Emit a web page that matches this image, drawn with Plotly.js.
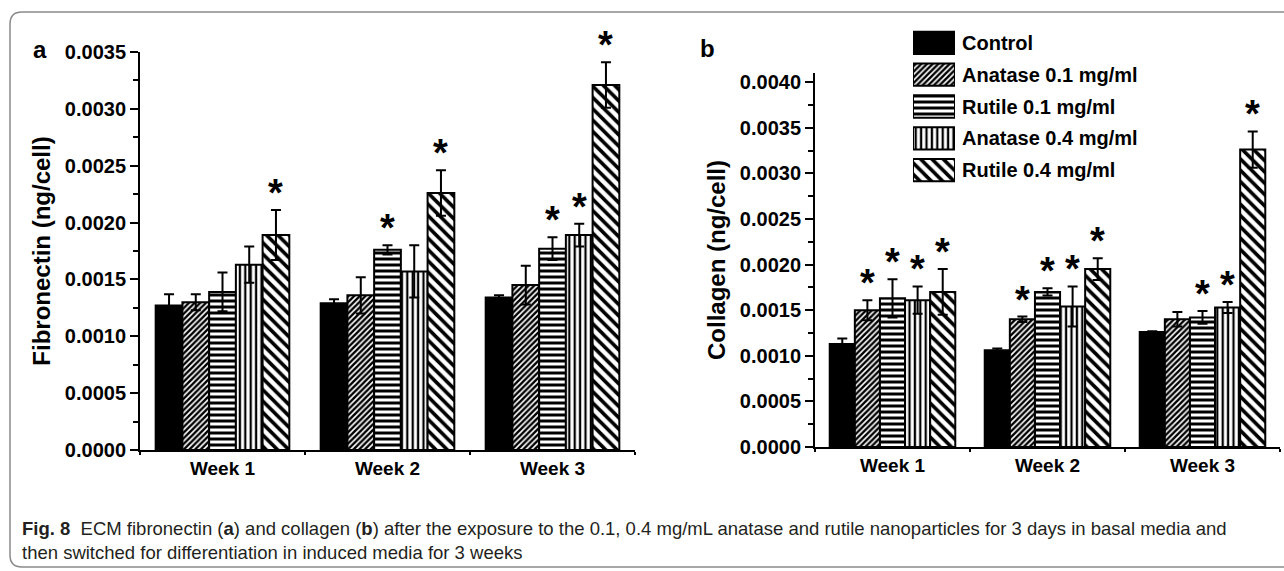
<!DOCTYPE html>
<html>
<head>
<meta charset="utf-8">
<script src="https://cdn.plot.ly/plotly-3.0.1.min.js"></script>
<style>
  html, body { margin: 0; padding: 0; background: #fff; }
  #chart { width: 1284px; height: 571px; }
</style>
</head>
<body>
<div id="chart"></div>
<script>
// ---------- data ----------
const weeks = ['Week 1', 'Week 2', 'Week 3'];
const seriesNames = ['Control', 'Anatase 0.1 mg/ml', 'Rutile 0.1 mg/ml', 'Anatase 0.4 mg/ml', 'Rutile 0.4 mg/ml'];

// Fibronectin (ng/cell), panel a
const fibControl    = [0.00127, 0.00129, 0.00134];
const fibAnatase01  = [0.00130, 0.00136, 0.00145];
const fibRutile01   = [0.00139, 0.00176, 0.00177];
const fibAnatase04  = [0.00163, 0.00157, 0.00189];
const fibRutile04   = [0.00189, 0.00226, 0.00321];
const fibControlErr   = [0.00010, 0.000035, 0.00002];
const fibAnatase01Err = [0.00007, 0.00016, 0.00017];
const fibRutile01Err  = [0.00017, 0.00004, 0.00010];
const fibAnatase04Err = [0.00016, 0.00023, 0.00010];
const fibRutile04Err  = [0.00022, 0.00020, 0.00020];
// significance stars (per series, per week)
const fibStars = [
  [false, false, false],
  [false, false, false],
  [false, true,  true ],
  [false, false, true ],
  [true,  true,  true ]
];

// Collagen (ng/cell), panel b
const colControl    = [0.00113, 0.00106, 0.00126];
const colAnatase01  = [0.00150, 0.00140, 0.00140];
const colRutile01   = [0.00163, 0.00170, 0.00142];
const colAnatase04  = [0.00161, 0.00154, 0.00153];
const colRutile04   = [0.00170, 0.00195, 0.00326];
const colControlErr   = [0.00006, 0.00002, 0.00001];
const colAnatase01Err = [0.00011, 0.00003, 0.00008];
const colRutile01Err  = [0.00021, 0.00004, 0.00007];
const colAnatase04Err = [0.00015, 0.00022, 0.00006];
const colRutile04Err  = [0.00025, 0.00012, 0.00020];
const colStars = [
  [false, false, false],
  [true,  true,  false],
  [true,  true,  true ],
  [true,  true,  true ],
  [true,  true,  true ]
];

const fibTickVals = [0, 0.0005, 0.0010, 0.0015, 0.0020, 0.0025, 0.0030, 0.0035];
const colTickVals = [0, 0.0005, 0.0010, 0.0015, 0.0020, 0.0025, 0.0030, 0.0035, 0.0040];

// ---------- styles ----------
const W = 1284, H = 571;
const px = x => x / W;
const py = y => 1 - y / H;
const FONT = 'Liberation Sans, Arial, sans-serif';

const patterns = [
  { shape: '',   size: 6, solidity: 0.3 },
  { shape: '/',  size: 4, solidity: 0.6 },
  { shape: '-',  size: 6, solidity: 0.5 },
  { shape: '|',  size: 5.4, solidity: 0.42 },
  { shape: '\\', size: 8, solidity: 0.45 }
];

const fibMeans = [fibControl, fibAnatase01, fibRutile01, fibAnatase04, fibRutile04];
const fibErrs  = [fibControlErr, fibAnatase01Err, fibRutile01Err, fibAnatase04Err, fibRutile04Err];
const colMeans = [colControl, colAnatase01, colRutile01, colAnatase04, colRutile04];
const colErrs  = [colControlErr, colAnatase01Err, colRutile01Err, colAnatase04Err, colRutile04Err];

const BARGAP = 0.19;

function barTrace(i, means, errs, xa, ya) {
  const p = patterns[i];
  const marker = {
    color: 'black',
    line: { color: 'black', width: 2 }
  };
  if (p.shape) {
    marker.pattern = { shape: p.shape, size: p.size, solidity: p.solidity,
                       fgcolor: 'black', bgcolor: 'white', fillmode: 'replace' };
  }
  return {
    type: 'bar', x: weeks, y: means, name: seriesNames[i],
    xaxis: xa, yaxis: ya, showlegend: false,
    marker: marker,
    error_y: { type: 'data', array: errs, visible: true, color: 'black', thickness: 2, width: 5 },
    hoverinfo: 'skip'
  };
}

const traces = [];
for (let i = 0; i < 5; i++) traces.push(barTrace(i, fibMeans[i], fibErrs[i], 'x', 'y'));
for (let i = 0; i < 5; i++) traces.push(barTrace(i, colMeans[i], colErrs[i], 'x2', 'y2'));

// legend swatches drawn as horizontal bars on a small hidden axis
traces.push({
  type: 'bar', orientation: 'h',
  y: seriesNames, x: seriesNames.map(() => 1),
  xaxis: 'x3', yaxis: 'y3', showlegend: false, width: 0.7,
  marker: {
    color: 'black',
    line: { color: 'black', width: 2 },
    pattern: {
      shape: patterns.map(p => p.shape),
      size: patterns.map(p => p.size),
      solidity: patterns.map(p => p.solidity),
      fgcolor: 'black', bgcolor: 'white', fillmode: 'replace'
    }
  },
  hoverinfo: 'skip'
});

// stars
const annotations = [];
const groupW = 1 - BARGAP, barW = groupW / 5;
function addStars(stars, means, errs, xref, yref) {
  for (let i = 0; i < 5; i++) {
    for (let j = 0; j < weeks.length; j++) {
      if (!stars[i][j]) continue;
      annotations.push({
        x: j - groupW / 2 + barW * (i + 0.5), y: means[i][j] + errs[i][j],
        xref: xref, yref: yref, text: '*', showarrow: false,
        xanchor: 'center', yanchor: 'bottom', yshift: -6,
        font: { family: FONT, size: 38, color: 'black', weight: 'bold' }
      });
    }
  }
}
addStars(fibStars, fibMeans, fibErrs, 'x', 'y');
addStars(colStars, colMeans, colErrs, 'x2', 'y2');

// panel letters
annotations.push({ x: px(40), y: py(50), xref: 'paper', yref: 'paper', text: 'a', showarrow: false,
  xanchor: 'center', yanchor: 'middle', font: { family: FONT, size: 24, color: 'black', weight: 'bold' } });
annotations.push({ x: px(707), y: py(48), xref: 'paper', yref: 'paper', text: 'b', showarrow: false,
  xanchor: 'center', yanchor: 'middle', font: { family: FONT, size: 24, color: 'black', weight: 'bold' } });

// caption
annotations.push({
  x: px(20), y: py(516), xref: 'paper', yref: 'paper', xanchor: 'left', yanchor: 'top', align: 'left',
  showarrow: false,
  text: '<b>Fig. 8</b>  ECM fibronectin (<b>a</b>) and collagen (<b>b</b>) after the exposure to the 0.1, 0.4 mg/mL anatase and rutile nanoparticles for 3 days in basal media and<br>then switched for differentiation in induced media for 3 weeks',
  font: { family: FONT, size: 18.5, color: '#231f20', weight: 'normal' }
});

// frame (rounded)
const r = 12, L = 10, T = 12, R = 1300, B = 567;
const framePath = [
  'M', px(L), py(B - r),
  'L', px(L), py(T + r),
  'Q', px(L), py(T), px(L + r), py(T),
  'L', px(R), py(T),
  'M', px(L), py(B - r),
  'Q', px(L), py(B), px(L + r), py(B),
  'L', px(R), py(B)
].join(' ');

function yAxis(domain, range, tickvals, title, anchor) {
  return {
    domain: domain, range: range, anchor: anchor,
    tickvals: tickvals, tickformat: '.4f',
    showline: true, linecolor: 'black', linewidth: 2,
    ticks: 'outside', ticklen: 8, tickwidth: 2, tickcolor: 'black',
    minor: { dtick: 0.00025, ticks: 'outside', ticklen: 5, tickwidth: 2, tickcolor: 'black', showgrid: false },
    showgrid: false, zeroline: false, automargin: false,
    tickfont: { family: FONT, size: 20, color: 'black', weight: 'bold' },
    title: { text: title, standoff: 7, font: { family: FONT, size: 24, color: 'black', weight: 'bold' } }
  };
}
function xAxis(domain, anchor) {
  return {
    domain: domain, anchor: anchor, type: 'category', range: [-0.5, 2.5],
    showline: true, linecolor: 'black', linewidth: 2,
    ticks: 'outside', tickson: 'boundaries', ticklen: 3, tickwidth: 2, tickcolor: 'black',
    showgrid: false, zeroline: false, automargin: false,
    tickfont: { family: FONT, size: 19, color: 'black', weight: 'bold' }
  };
}

const layout = {
  width: W, height: H,
  margin: { l: 0, r: 0, t: 0, b: 0 },
  paper_bgcolor: 'white', plot_bgcolor: 'rgba(0,0,0,0)',
  font: { family: FONT, color: 'black' },
  barmode: 'group', bargap: BARGAP, bargroupgap: 0,
  showlegend: false,
  xaxis:  xAxis([px(140), px(635)], 'y'),
  yaxis:  yAxis([py(450), py(52)], [0, 0.0035], fibTickVals, 'Fibronectin (ng/cell)', 'x'),
  xaxis2: xAxis([px(815), px(1280)], 'y2'),
  yaxis2: yAxis([py(447), py(73)], [0, 0.0041], colTickVals, 'Collagen (ng/cell)', 'x2'),
  xaxis3: { domain: [px(913), px(955)], anchor: 'y3', range: [0, 1], visible: false, fixedrange: true },
  yaxis3: { domain: [py(186), py(27)], anchor: 'x3', side: 'right', type: 'category',
            range: [4.5, -0.5], showline: false, ticks: '', showgrid: false, zeroline: false,
            automargin: false, ticklabelstandoff: 6,
            tickfont: { family: FONT, size: 20, color: 'black', weight: 'bold' } },
  annotations: annotations,
  shapes: [{ type: 'path', xref: 'paper', yref: 'paper', path: framePath,
             line: { color: '#8a8a8a', width: 1.5 } }]
};

Plotly.newPlot('chart', traces, layout, { staticPlot: true, displayModeBar: false });
</script>
</body>
</html>
